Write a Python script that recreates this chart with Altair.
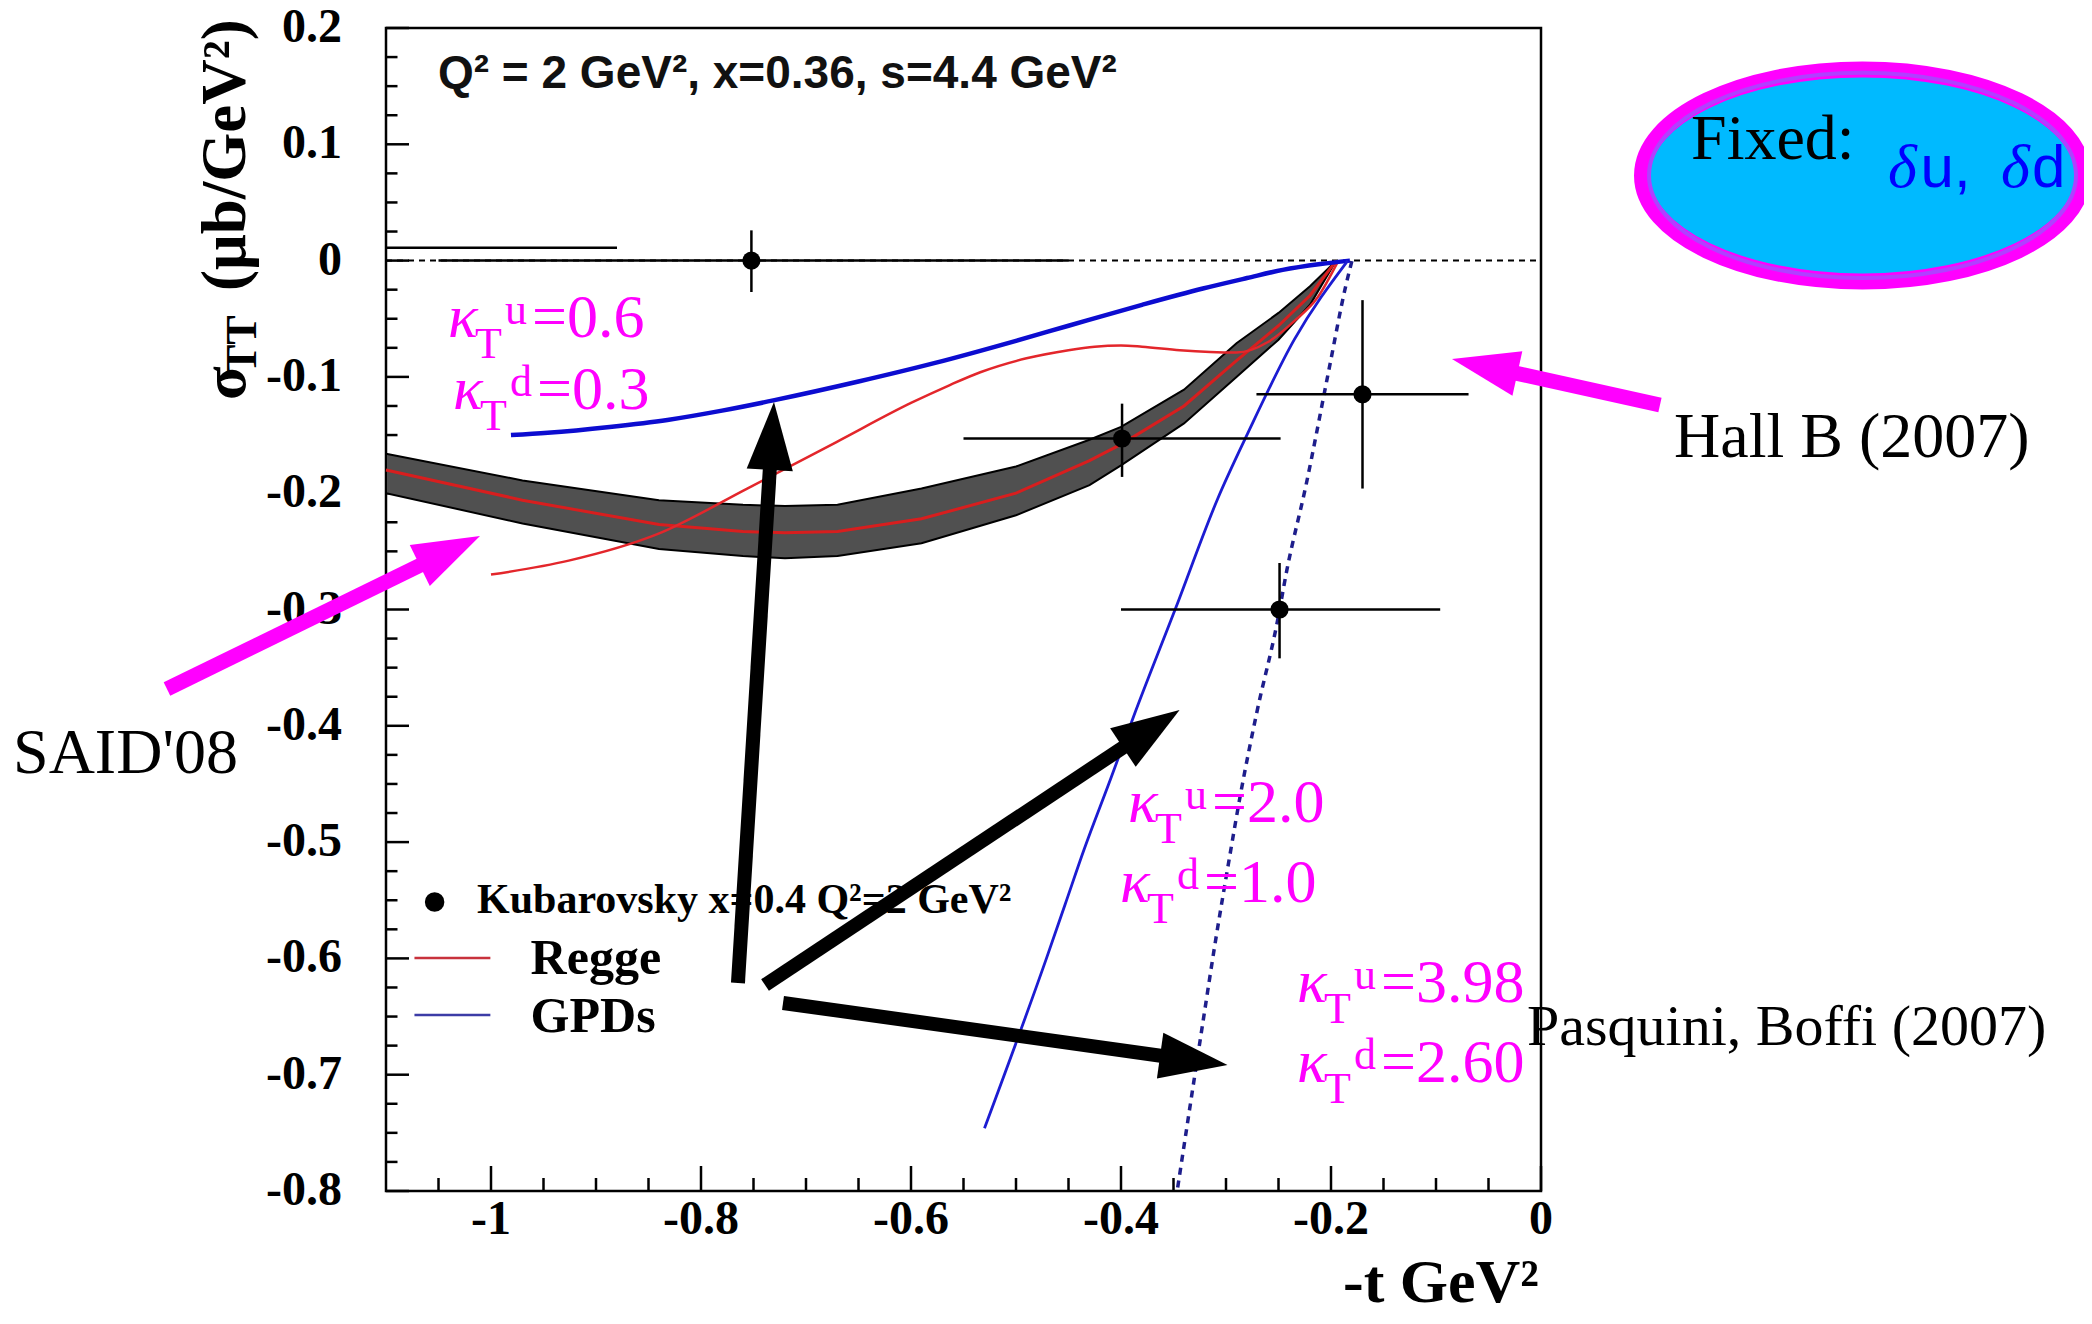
import math
import altair as alt
import pandas as pd

# ---------------- plot geometry ----------------
W, H = 1155, 1163
XMIN, XMAX = -1.1, 0.0
YMIN, YMAX = -0.8, 0.2

# ---------------- axis ticks ----------------
x_major = [-1.0, -0.8, -0.6, -0.4, -0.2, 0.0]
x_minor = [-1.05, -0.95, -0.9, -0.85, -0.75, -0.7, -0.65, -0.55, -0.5, -0.45,
           -0.35, -0.3, -0.25, -0.15, -0.1, -0.05]
y_major = [0.2, 0.1, 0.0, -0.1, -0.2, -0.3, -0.4, -0.5, -0.6, -0.7, -0.8]
y_minor = [0.175, 0.15, 0.125, 0.075, 0.05, 0.025, -0.025, -0.05, -0.075,
           -0.125, -0.15, -0.175, -0.225, -0.25, -0.275, -0.325, -0.35, -0.375,
           -0.425, -0.45, -0.475, -0.525, -0.55, -0.575, -0.625, -0.65, -0.675,
           -0.725, -0.75, -0.775]
x_labels = ["-1", "-0.8", "-0.6", "-0.4", "-0.2", "0"]
y_labels = ["0.2", "0.1", "0", "-0.1", "-0.2", "-0.3", "-0.4", "-0.5", "-0.6", "-0.7", "-0.8"]

# ---------------- Kubarovsky data (Hall B) ----------------
pt_t = [-0.752, -0.399, -0.170, -0.249]
pt_s = [0.000, -0.153, -0.115, -0.300]
pt_tlo = [-1.05, -0.550, -0.271, -0.400]
pt_thi = [-0.45, -0.248, -0.069, -0.096]
pt_slo = [-0.027, -0.186, -0.196, -0.342]
pt_shi = [0.026, -0.123, -0.034, -0.260]
extra_bar_t = [-1.10, -0.88]
extra_bar_s = [0.011]

# ---------------- SAID'08 band ----------------
said_t = [-1.10, -0.97, -0.84, -0.76, -0.72, -0.67, -0.59, -0.50, -0.43, -0.40,
          -0.34, -0.29, -0.25, -0.22, -0.195]
said_top = [-0.166, -0.189, -0.206, -0.210, -0.211, -0.210, -0.196, -0.177, -0.154,
            -0.143, -0.111, -0.071, -0.045, -0.022, 0.0]
said_bot = [-0.200, -0.226, -0.248, -0.254, -0.256, -0.254, -0.243, -0.219, -0.193,
            -0.176, -0.140, -0.100, -0.068, -0.038, 0.0]
said_mid = [-0.180, -0.206, -0.227, -0.233, -0.234, -0.233, -0.222, -0.200, -0.172,
            -0.158, -0.125, -0.086, -0.056, -0.030, 0.0]

# ---------------- Regge ----------------
regge_t = [-1.00, -0.926, -0.841, -0.756, -0.671, -0.599, -0.563, -0.534, -0.49,
           -0.45, -0.425, -0.40, -0.38, -0.344, -0.29, -0.26, -0.235, -0.213, -0.193]
regge_s = [-0.270, -0.258, -0.235, -0.196, -0.156, -0.122, -0.107, -0.096, -0.084,
           -0.077, -0.074, -0.073, -0.074, -0.077, -0.079, -0.070, -0.052, -0.032, 0.0]

# ---------------- GPDs (Pasquini, Boffi) ----------------
gpd1_t = [-0.981, -0.946, -0.887, -0.832, -0.78, -0.730, -0.65, -0.577, -0.50, -0.45,
          -0.38, -0.322, -0.28, -0.246, -0.21, -0.182]
gpd1_s = [-0.150, -0.148, -0.143, -0.137, -0.129, -0.120, -0.104, -0.088, -0.069, -0.056,
          -0.038, -0.024, -0.015, -0.008, -0.003, 0.0]
gpd2_t = [-0.530, -0.471, -0.453, -0.435, -0.410, -0.388, -0.348, -0.308, -0.279, -0.235, -0.184]
gpd2_s = [-0.746, -0.600, -0.553, -0.506, -0.446, -0.392, -0.299, -0.205, -0.148, -0.068, 0.0]
gpd3_t = [-0.346, -0.322, -0.310, -0.297, -0.286, -0.271, -0.251, -0.242, -0.224, -0.202, -0.186, -0.180]
gpd3_s = [-0.797, -0.655, -0.585, -0.515, -0.458, -0.390, -0.310, -0.266, -0.194, -0.094, -0.022, 0.0]

# ---------------- annotations (anchor positions in data units) ----------------
kappa_t = [-1.0410, -1.0362, -0.3933, -0.4010, -0.2324, -0.2324]
kappa_s = [-0.0657, -0.1280, -0.4825, -0.5513, -0.6372, -0.7060]
kappa_sup = ["u", "d", "u", "d", "u", "d"]
kappa_rest = ["=0.6", "=0.3", "=2.0", "=1.0", "=3.98", "=2.60"]

note_text = ["SAID'08", "Hall B (2007)", "Pasquini, Boffi (2007)", "Fixed:"]
note_t = [-1.4552, 0.1267, -0.0133, 0.1429]
note_s = [-0.4406, -0.1689, -0.6745, 0.0874]
note_size = [64, 64, 58, 64]

delta_t = [0.3305, 0.4381]
delta_letter_t = [0.3615, 0.4676]
delta_letters = ["u,", "d"]
delta_s = [0.0629]

ellipse_t = [0.3062]
ellipse_s = [0.0732]

black_tail_t = [-0.7648, -0.7390, -0.7219]
black_tail_s = [-0.6212, -0.6229, -0.6383]
black_tip_t = [-0.7305, -0.3442, -0.2986]
black_tip_s = [-0.1216, -0.3864, -0.6917]
mag_tail_t = [-1.3086, 0.1133]
mag_tail_s = [-0.3684, -0.1242]
mag_tip_t = [-1.0105, -0.0848]
mag_tip_s = [-0.2368, -0.0846]

legend_pt = [-1.0537, -0.5515]
legend_text = ["Kubarovsky x=0.4 Q\u00b2=2 GeV\u00b2", "Regge", "GPDs"]
legend_text_t = [-1.0133, -0.9623, -0.9623]
legend_text_s = [-0.561, -0.6131, -0.6633]
legend_size = [42, 50, 50]
legend_line_t = [-1.0729, -1.0006]
legend_line_s = [-0.5997, -0.6487]

top_label = "Q\u00b2 = 2 GeV\u00b2, x=0.36, s=4.4 GeV\u00b2"
top_label_pos = [-1.0505, 0.1484]
xtitle_pos = [-0.002, -0.8956]
ytitle_parts = ["\u03c3", "TT", "(\u03bcb/GeV\u00b2)"]
ytitle_t = [-1.2343, -1.2238, -1.2343]
ytitle_s = [-0.1199, -0.0975, -0.0261]
ytitle_size = [62, 44, 63]

# ---------------- helpers ----------------
xs = alt.Scale(domain=[XMIN, XMAX], nice=False, zero=False)
ys = alt.Scale(domain=[YMIN, YMAX], nice=False, zero=False)


def X(f):
    return alt.X(f, type="quantitative", scale=xs, axis=None)


def Y(f):
    return alt.Y(f, type="quantitative", scale=ys, axis=None)


def px(v):
    return (v - XMIN) / (XMAX - XMIN) * W


def py(w):
    return (YMAX - w) / (YMAX - YMIN) * H


def vx(p):
    return XMIN + p / W * (XMAX - XMIN)


def wy(p):
    return YMAX - p / H * (YMAX - YMIN)


def arrow_frames(t0, s0, t1, s1, back):
    shafts, heads = [], []
    for a, b, c, d in zip(t0, s0, t1, s1):
        dx = px(c) - px(a)
        dy = py(d) - py(b)
        L = math.hypot(dx, dy)
        ux, uy = dx / L, dy / L
        shafts.append({"t0": a, "s0": b, "t1": vx(px(c) - ux * back), "s1": wy(py(d) - uy * back)})
        heads.append({"t": c, "s": d, "ang": math.degrees(math.atan2(dx, -dy)) % 360})
    return pd.DataFrame(shafts), pd.DataFrame(heads)


layers = []

# ticks (inside the frame)
layers.append(alt.Chart(pd.DataFrame({"v": x_major})).mark_rule(color="black", strokeWidth=2.5).encode(
    x=X("v"), y=alt.value(H), y2=alt.value(H - 25)))
layers.append(alt.Chart(pd.DataFrame({"v": x_minor})).mark_rule(color="black", strokeWidth=2.5).encode(
    x=X("v"), y=alt.value(H), y2=alt.value(H - 13)))
layers.append(alt.Chart(pd.DataFrame({"w": y_major})).mark_rule(color="black", strokeWidth=2.5).encode(
    y=Y("w"), x=alt.value(0), x2=alt.value(23)))
layers.append(alt.Chart(pd.DataFrame({"w": y_minor})).mark_rule(color="black", strokeWidth=2.5).encode(
    y=Y("w"), x=alt.value(0), x2=alt.value(11.5)))

# tick labels
layers.append(alt.Chart(pd.DataFrame({"v": x_major, "w": [YMIN] * len(x_major), "lab": x_labels})).mark_text(
    font="Liberation Serif", fontWeight="bold", fontSize=48, align="center", baseline="top", dy=5,
    color="black").encode(x=X("v"), y=Y("w"), text="lab:N"))
layers.append(alt.Chart(pd.DataFrame({"v": [XMIN] * len(y_major), "w": y_major, "lab": y_labels})).mark_text(
    font="Liberation Serif", fontWeight="bold", fontSize=48, align="right", baseline="middle", dx=-44,
    color="black").encode(x=X("v"), y=Y("w"), text="lab:N"))

# zero line (dashed)
layers.append(alt.Chart(pd.DataFrame({"a": [XMIN], "b": [XMAX], "w": [0.0]})).mark_rule(
    color="black", strokeWidth=2, strokeDash=[6, 5]).encode(x=X("a"), x2="b", y=Y("w")))

# SAID'08 band
said_df = pd.DataFrame({"t": said_t, "top": said_top, "bot": said_bot, "mid": said_mid})
layers.append(alt.Chart(said_df).mark_area(fill="#505050", stroke="#000000", strokeWidth=2, opacity=1).encode(
    x=X("t"), y=Y("top"), y2="bot"))
layers.append(alt.Chart(said_df).mark_line(color="#d81e1e", strokeWidth=3).encode(x=X("t"), y=Y("mid")))

# Regge
layers.append(alt.Chart(pd.DataFrame({"t": regge_t, "s": regge_s})).mark_line(
    color="#e3262b", strokeWidth=2.5, interpolate="monotone").encode(x=X("t"), y=Y("s")))

# GPD curves
layers.append(alt.Chart(pd.DataFrame({"t": gpd1_t, "s": gpd1_s})).mark_line(
    color="#0c0cd0", strokeWidth=4.5, interpolate="monotone").encode(x=X("t"), y=Y("s")))
layers.append(alt.Chart(pd.DataFrame({"t": gpd2_t, "s": gpd2_s})).mark_line(
    color="#1c1cd2", strokeWidth=2.8, interpolate="monotone").encode(x=X("t"), y=Y("s")))
layers.append(alt.Chart(pd.DataFrame({"t": gpd3_t, "s": gpd3_s})).mark_line(
    color="#1e1e8c", strokeWidth=3.5, strokeDash=[7, 6], interpolate="monotone").encode(x=X("t"), y=Y("s")))

# data points with error bars
pts = pd.DataFrame({"t": pt_t, "s": pt_s, "tlo": pt_tlo, "thi": pt_thi, "slo": pt_slo, "shi": pt_shi})
layers.append(alt.Chart(pd.DataFrame({"a": [extra_bar_t[0]], "b": [extra_bar_t[1]], "s": extra_bar_s})).mark_rule(
    color="black", strokeWidth=2.5).encode(x=X("a"), x2="b", y=Y("s")))
layers.append(alt.Chart(pts).mark_rule(color="black", strokeWidth=2.5).encode(x=X("tlo"), x2="thi", y=Y("s")))
layers.append(alt.Chart(pts).mark_rule(color="black", strokeWidth=2.5).encode(x=X("t"), y=Y("slo"), y2="shi"))
layers.append(alt.Chart(pts).mark_point(filled=True, color="black", size=330, opacity=1).encode(x=X("t"), y=Y("s")))

# legend
layers.append(alt.Chart(pd.DataFrame({"t": [legend_pt[0]], "s": [legend_pt[1]]})).mark_point(
    filled=True, color="black", size=380, opacity=1).encode(x=X("t"), y=Y("s")))
layers.append(alt.Chart(pd.DataFrame({"a": [legend_line_t[0]], "b": [legend_line_t[1]], "s": [legend_line_s[0]]})).mark_rule(
    color="#c8323c", strokeWidth=2.5).encode(x=X("a"), x2="b", y=Y("s")))
layers.append(alt.Chart(pd.DataFrame({"a": [legend_line_t[0]], "b": [legend_line_t[1]], "s": [legend_line_s[1]]})).mark_rule(
    color="#3c3ca6", strokeWidth=2.5).encode(x=X("a"), x2="b", y=Y("s")))
leg_df = pd.DataFrame({"t": legend_text_t, "s": legend_text_s, "txt": legend_text, "fs": legend_size})
layers.append(alt.Chart(leg_df).mark_text(font="Liberation Serif", fontWeight="bold", align="left",
                                          baseline="alphabetic", color="black").encode(
    x=X("t"), y=Y("s"), text="txt:N", size=alt.Size("fs:Q", scale=None, legend=None)))

# top label
layers.append(alt.Chart(pd.DataFrame({"t": [top_label_pos[0]], "s": [top_label_pos[1]], "txt": [top_label]})).mark_text(
    font="Liberation Sans", fontWeight="bold", fontSize=46, align="left", baseline="alphabetic",
    color="#111111").encode(x=X("t"), y=Y("s"), text="txt:N"))

# axis titles
layers.append(alt.Chart(pd.DataFrame({"t": [xtitle_pos[0]], "s": [xtitle_pos[1]], "txt": ["-t GeV\u00b2"]})).mark_text(
    font="Liberation Serif", fontWeight="bold", fontSize=62, align="right", baseline="alphabetic",
    color="black").encode(x=X("t"), y=Y("s"), text="txt:N"))
yt_df = pd.DataFrame({"t": ytitle_t, "s": ytitle_s, "txt": ytitle_parts, "fs": ytitle_size})
layers.append(alt.Chart(yt_df).mark_text(font="Liberation Serif", fontWeight="bold", angle=270, align="left",
                                         baseline="alphabetic", color="black").encode(
    x=X("t"), y=Y("s"), text="txt:N", size=alt.Size("fs:Q", scale=None, legend=None)))

# kappa labels (magenta)
kap = pd.DataFrame({"t": kappa_t, "s": kappa_s, "sup": kappa_sup, "rest": kappa_rest})
MAG = "#ff00ff"
layers.append(alt.Chart(kap).mark_text(font="Liberation Serif", fontStyle="italic", fontSize=62, align="left",
                                       baseline="alphabetic", color=MAG, text="\u03ba").encode(x=X("t"), y=Y("s")))
layers.append(alt.Chart(kap).mark_text(font="Liberation Serif", fontSize=44, align="left", dx=27, dy=21,
                                       baseline="alphabetic", color=MAG, text="T").encode(x=X("t"), y=Y("s")))
layers.append(alt.Chart(kap).mark_text(font="Liberation Serif", fontSize=44, align="left", dx=57, dy=-13,
                                       baseline="alphabetic", color=MAG).encode(x=X("t"), y=Y("s"), text="sup:N"))
layers.append(alt.Chart(kap).mark_text(font="Liberation Serif", fontSize=62, align="left", dx=84,
                                       baseline="alphabetic", color=MAG).encode(x=X("t"), y=Y("s"), text="rest:N"))

# black arrows
sh, hd = arrow_frames(black_tail_t, black_tail_s, black_tip_t, black_tip_s, 35)
head_path = "M 0 0 L 0.34 1 L -0.34 1 Z"
layers.append(alt.Chart(sh).mark_rule(color="black", strokeWidth=14, strokeCap="butt").encode(
    x=X("t0"), y=Y("s0"), x2="t1", y2="s1"))
layers.append(alt.Chart(hd).mark_point(shape=head_path, filled=True, color="black", size=18496, opacity=1,
                                       strokeWidth=0).encode(x=X("t"), y=Y("s"), angle=alt.Angle("ang:Q", scale=None)))
# magenta arrows
sh2, hd2 = arrow_frames(mag_tail_t, mag_tail_s, mag_tip_t, mag_tip_s, 35)
layers.append(alt.Chart(sh2).mark_rule(color=MAG, strokeWidth=15, strokeCap="butt").encode(
    x=X("t0"), y=Y("s0"), x2="t1", y2="s1"))
layers.append(alt.Chart(hd2).mark_point(shape=head_path, filled=True, color=MAG, size=17956, opacity=1,
                                        strokeWidth=0).encode(x=X("t"), y=Y("s"), angle=alt.Angle("ang:Q", scale=None)))

# black notes (SAID'08, Hall B, Pasquini)
notes = pd.DataFrame({"t": note_t[:3], "s": note_s[:3], "txt": note_text[:3], "fs": note_size[:3]})
layers.append(alt.Chart(notes).mark_text(font="Liberation Serif", align="left",
                                         baseline="alphabetic", color="black").encode(
    x=X("t"), y=Y("s"), text="txt:N", size=alt.Size("fs:Q", scale=None, legend=None)))

# "Fixed" ellipse
ell_path = ("M -1 0 C -1 -0.2655 -0.5523 -0.4808 0 -0.4808 C 0.5523 -0.4808 1 -0.2655 1 0 "
            "C 1 0.2655 0.5523 0.4808 0 0.4808 C -0.5523 0.4808 -1 0.2655 -1 0 Z")
ell_df = pd.DataFrame({"t": ellipse_t, "s": ellipse_s})
layers.append(alt.Chart(ell_df).mark_point(shape=ell_path, filled=False, fill="#00baff", fillOpacity=1,
                                           stroke=MAG, strokeWidth=16, size=441 ** 2, opacity=1).encode(
    x=X("t"), y=Y("s")))
layers.append(alt.Chart(ell_df).mark_point(shape=ell_path, filled=False, stroke="#b040ff", strokeWidth=4,
                                           size=427 ** 2, opacity=1).encode(x=X("t"), y=Y("s")))
layers.append(alt.Chart(pd.DataFrame({"t": [note_t[3]], "s": [note_s[3]], "txt": [note_text[3]]})).mark_text(
    font="Liberation Serif", fontSize=note_size[3], align="left", baseline="alphabetic", color="black").encode(
    x=X("t"), y=Y("s"), text="txt:N"))
layers.append(alt.Chart(pd.DataFrame({"t": delta_t, "s": delta_s * 2})).mark_text(
    font="Liberation Serif", fontStyle="italic", fontSize=62, align="left", baseline="alphabetic",
    color="#0000ff", text="\u03b4").encode(x=X("t"), y=Y("s")))
layers.append(alt.Chart(pd.DataFrame({"t": delta_letter_t, "s": delta_s * 2, "txt": delta_letters})).mark_text(
    font="Liberation Sans", fontSize=60, align="left", baseline="alphabetic",
    color="#0000ff").encode(x=X("t"), y=Y("s"), text="txt:N"))

chart = alt.layer(*layers).properties(
    width=W, height=H,
    autosize=alt.AutoSizeParams(type="none"),
    padding={"left": 378, "top": 20, "right": 543, "bottom": 125},
    background="white",
).configure_view(stroke="black", strokeWidth=2.5)

chart.save("out.html", embed_options={"renderer": "svg", "actions": False})
